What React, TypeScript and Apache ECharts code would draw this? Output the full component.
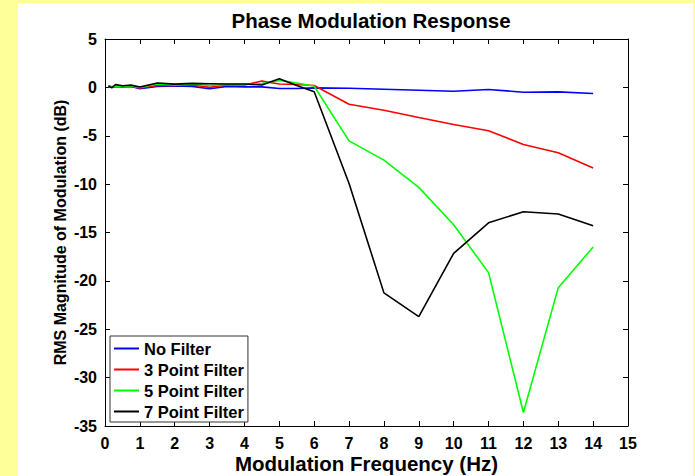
import React, { useEffect, useRef } from "react";
import * as echarts from "echarts";

// Modulation frequencies (Hz) at which the response was measured
const frequencies = [0.1, 0.2, 0.3, 0.5, 0.75, 1, 1.5, 2, 2.5, 3, 3.5, 4, 4.5, 5, 5.5, 6, 7, 8, 9, 10, 11, 12, 13, 14];

// RMS magnitude of modulation (dB) for each filter setting
const noFilter = [0.1, 0.05, 0.1, 0.05, 0.1, -0.15, 0.1, 0.15, 0.1, -0.15, 0.1, 0.05, 0.05, -0.12, -0.12, -0.05, -0.09, -0.19, -0.29, -0.4, -0.22, -0.5, -0.47, -0.64];
const threePoint = [0.1, 0.0, 0.1, 0.1, 0.1, -0.05, 0.2, 0.2, 0.25, 0.0, 0.25, 0.25, 0.65, 0.35, 0.3, 0.2, -1.74, -2.36, -3.11, -3.84, -4.49, -5.9, -6.76, -8.34];
const fivePoint = [0.1, 0.05, 0.15, 0.1, 0.15, 0.0, 0.35, 0.25, 0.35, 0.2, 0.3, 0.3, 0.4, 0.72, 0.45, 0.12, -5.53, -7.52, -10.34, -14.2, -19.15, -33.6, -20.7, -16.5];
const sevenPoint = [0.14, -0.03, 0.3, 0.17, 0.23, 0.03, 0.45, 0.34, 0.41, 0.38, 0.35, 0.35, 0.25, 0.9, 0.2, -0.45, -9.93, -21.24, -23.7, -17.15, -14.0, -12.85, -13.09, -14.3];

const seriesNames = ["No Filter", "3 Point Filter", "5 Point Filter", "7 Point Filter"];
const seriesValues = [noFilter, threePoint, fivePoint, sevenPoint];
const seriesColors = ["#0000ff", "#ff0000", "#00ff00", "#000000"];

const xTicks = { min: 0, max: 15, interval: 1 };
const yTicks = { min: -35, max: 5, interval: 5 };

const FONT = "'Liberation Sans', Arial, sans-serif";

export default function App() {
  const ref = useRef<HTMLDivElement>(null);

  useEffect(() => {
    if (!ref.current) return;
    const chart = echarts.init(ref.current, undefined, { renderer: "svg" });

    const axisLabel = { color: "#000", fontFamily: FONT, fontWeight: "bold", fontSize: 16 };
    const tick = { show: true, inside: true, length: 5, lineStyle: { color: "#000", width: 1 } };
    const line = { show: true, onZero: false, lineStyle: { color: "#000", width: 1 } };

    chart.setOption({
      animation: false,
      backgroundColor: "transparent",
      title: {
        text: "Phase Modulation Response",
        left: 366,
        top: 5,
        textAlign: "center",
        textStyle: { fontFamily: FONT, fontWeight: "bold", fontSize: 20.5, color: "#000" },
      },
      grid: { left: 105, right: 67, top: 39, bottom: 50, containLabel: false, outerBoundsMode: "none" },
      legend: {
        orient: "vertical",
        left: 110,
        top: 336,
        data: seriesNames,
        icon: "rect",
        itemWidth: 25,
        itemHeight: 2,
        itemGap: 4,
        itemTextGap: 4,
        padding: [4, 4, 2, 4],
        backgroundColor: "#fff",
        borderColor: "#333",
        borderWidth: 1,
        borderRadius: 0,
        textStyle: { fontFamily: FONT, fontWeight: "bold", fontSize: 16.5, color: "#000", lineHeight: 17 },
      },
      xAxis: [
        {
          type: "value",
          ...xTicks,
          position: "bottom",
          name: "Modulation Frequency (Hz)",
          nameLocation: "middle",
          nameGap: 27,
          nameMoveOverlap: false,
          nameTextStyle: { fontFamily: FONT, fontWeight: "bold", fontSize: 20.5, color: "#000" },
          axisLine: line,
          axisTick: tick,
          axisLabel: { ...axisLabel, margin: 9 },
          splitLine: { show: false },
        },
        {
          type: "value",
          ...xTicks,
          position: "top",
          axisLine: line,
          axisTick: tick,
          axisLabel: { show: false },
          splitLine: { show: false },
        },
      ],
      yAxis: [
        {
          type: "value",
          ...yTicks,
          position: "left",
          name: "RMS Magnitude of Modulation (dB)",
          nameLocation: "middle",
          nameGap: 37,
          nameMoveOverlap: false,
          nameTextStyle: { fontFamily: FONT, fontWeight: "bold", fontSize: 16, color: "#000" },
          axisLine: line,
          axisTick: tick,
          axisLabel: { ...axisLabel, margin: 8 },
          splitLine: { show: false },
        },
        {
          type: "value",
          ...yTicks,
          position: "right",
          axisLine: line,
          axisTick: tick,
          axisLabel: { show: false },
          splitLine: { show: false },
        },
      ],
      series: seriesNames.map((name, i) => ({
        name,
        type: "line",
        xAxisIndex: 0,
        yAxisIndex: 0,
        data: frequencies.map((f, j) => [f, seriesValues[i][j]]),
        showSymbol: false,
        symbol: "none",
        color: seriesColors[i],
        lineStyle: { color: seriesColors[i], width: 1.6 },
      })),
    });

    return () => chart.dispose();
  }, []);

  return (
    <div style={{ position: "fixed", left: 0, top: 0, width: 695, height: 476, background: "#ffff99" }}>
      <div style={{ position: "absolute", left: 18, top: 3, width: 675, height: 473, background: "#fff" }} />
      <div ref={ref} style={{ position: "absolute", left: 0, top: 0, width: 695, height: 476 }} />
    </div>
  );
}
